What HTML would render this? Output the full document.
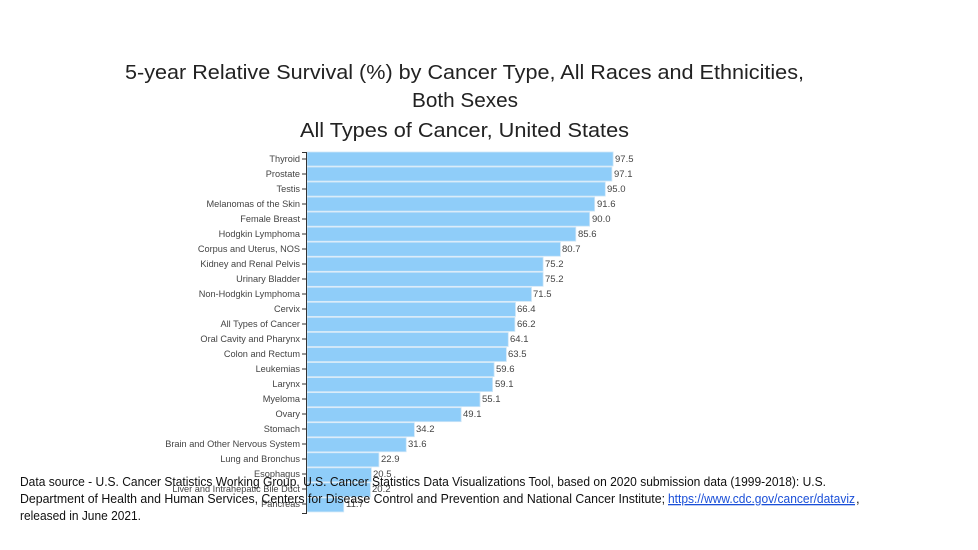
<!DOCTYPE html>
<html><head><meta charset="utf-8"><style>
html,body{margin:0;padding:0;background:#fff;width:978px;height:550px;overflow:hidden}
</style></head><body>
<svg width="978" height="550" xmlns="http://www.w3.org/2000/svg" font-family="Liberation Sans, Arial, sans-serif">
<g font-size="20" fill="#222">
<text x="125" y="79" textLength="679" lengthAdjust="spacingAndGlyphs">5-year Relative Survival (%) by Cancer Type, All Races and Ethnicities,</text>
<text x="412" y="107" textLength="106" lengthAdjust="spacingAndGlyphs">Both Sexes</text>
<text x="300" y="137" textLength="329" lengthAdjust="spacingAndGlyphs">All Types of Cancer, United States</text>
</g>
<g fill="#8fcdf9" stroke="#cfe6f7" stroke-width="0.8">
<rect x="307" y="152" width="306.15" height="14"/>
<rect x="307" y="167.04" width="304.89" height="14"/>
<rect x="307" y="182.08" width="298.3" height="14"/>
<rect x="307" y="197.12" width="287.62" height="14"/>
<rect x="307" y="212.16" width="282.6" height="14"/>
<rect x="307" y="227.2" width="268.78" height="14"/>
<rect x="307" y="242.24" width="253.4" height="14"/>
<rect x="307" y="257.28" width="236.13" height="14"/>
<rect x="307" y="272.32" width="236.13" height="14"/>
<rect x="307" y="287.36" width="224.51" height="14"/>
<rect x="307" y="302.4" width="208.5" height="14"/>
<rect x="307" y="317.44" width="207.87" height="14"/>
<rect x="307" y="332.48" width="201.27" height="14"/>
<rect x="307" y="347.52" width="199.39" height="14"/>
<rect x="307" y="362.56" width="187.14" height="14"/>
<rect x="307" y="377.6" width="185.57" height="14"/>
<rect x="307" y="392.64" width="173.01" height="14"/>
<rect x="307" y="407.68" width="154.17" height="14"/>
<rect x="307" y="422.72" width="107.39" height="14"/>
<rect x="307" y="437.76" width="99.22" height="14"/>
<rect x="307" y="452.8" width="71.91" height="14"/>
<rect x="307" y="467.84" width="64.37" height="14"/>
<rect x="307" y="482.88" width="63.43" height="14"/>
<rect x="307" y="497.92" width="36.74" height="14"/>
</g>
<path d="M306.5 152V514M302 152.5H306.5M302 513.5H306.5M302 159H306M302 174H306M302 189H306M302 204H306M302 219H306M302 234H306M302 249H306M302 264H306M302 279H306M302 294H306M302 309H306M302 324H306M302 339H306M302 354H306M302 369H306M302 384H306M302 399H306M302 414H306M302 429H306M302 444H306M302 459H306M302 474H306M302 489H306M302 504H306" stroke="#333" stroke-width="1" fill="none"/>
<g font-size="9.2" fill="#444" text-anchor="end">
<text x="300" y="162">Thyroid</text>
<text x="300" y="177">Prostate</text>
<text x="300" y="192">Testis</text>
<text x="300" y="207">Melanomas of the Skin</text>
<text x="300" y="222">Female Breast</text>
<text x="300" y="237">Hodgkin Lymphoma</text>
<text x="300" y="252">Corpus and Uterus, NOS</text>
<text x="300" y="267">Kidney and Renal Pelvis</text>
<text x="300" y="282">Urinary Bladder</text>
<text x="300" y="297">Non-Hodgkin Lymphoma</text>
<text x="300" y="312">Cervix</text>
<text x="300" y="327">All Types of Cancer</text>
<text x="300" y="342">Oral Cavity and Pharynx</text>
<text x="300" y="357">Colon and Rectum</text>
<text x="300" y="372">Leukemias</text>
<text x="300" y="387">Larynx</text>
<text x="300" y="402">Myeloma</text>
<text x="300" y="417">Ovary</text>
<text x="300" y="432">Stomach</text>
<text x="300" y="447">Brain and Other Nervous System</text>
<text x="300" y="462">Lung and Bronchus</text>
<text x="300" y="477">Esophagus</text>
<text x="300" y="492">Liver and Intrahepatic Bile Duct</text>
<text x="300" y="507">Pancreas</text>
</g>
<g font-size="9.5" fill="#444">
<text x="615" y="162">97.5</text>
<text x="614" y="177">97.1</text>
<text x="607" y="192">95.0</text>
<text x="597" y="207">91.6</text>
<text x="592" y="222">90.0</text>
<text x="578" y="237">85.6</text>
<text x="562" y="252">80.7</text>
<text x="545" y="267">75.2</text>
<text x="545" y="282">75.2</text>
<text x="533" y="297">71.5</text>
<text x="517" y="312">66.4</text>
<text x="517" y="327">66.2</text>
<text x="510" y="342">64.1</text>
<text x="508" y="357">63.5</text>
<text x="496" y="372">59.6</text>
<text x="495" y="387">59.1</text>
<text x="482" y="402">55.1</text>
<text x="463" y="417">49.1</text>
<text x="416" y="432">34.2</text>
<text x="408" y="447">31.6</text>
<text x="381" y="462">22.9</text>
<text x="373" y="477">20.5</text>
<text x="372" y="492">20.2</text>
<text x="346" y="507">11.7</text>
</g>
<g font-size="13" fill="#111">
<text x="20" y="486" textLength="806" lengthAdjust="spacingAndGlyphs">Data source - U.S. Cancer Statistics Working Group. U.S. Cancer Statistics Data Visualizations Tool, based on 2020 submission data (1999-2018): U.S.</text>
<text x="20" y="503" textLength="645" lengthAdjust="spacingAndGlyphs">Department of Health and Human Services, Centers for Disease Control and Prevention and National Cancer Institute;</text>
<text x="668" y="503" textLength="187" lengthAdjust="spacingAndGlyphs" fill="#1a4fd8" text-decoration="underline">https://www.cdc.gov/cancer/dataviz</text>
<text x="856" y="503">,</text>
<text x="20" y="520" textLength="121" lengthAdjust="spacingAndGlyphs">released in June 2021.</text>
</g>
</svg>
</body></html>
